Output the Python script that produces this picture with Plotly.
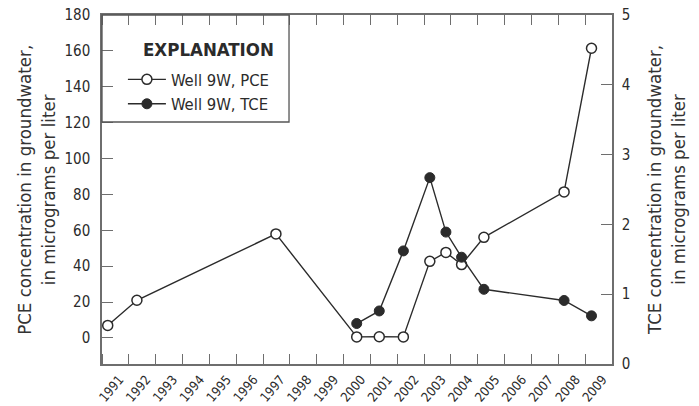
import plotly.graph_objects as go

# Sampling dates shared by both constituents at Well 9W
pce_dates = ["1991-03-20", "1992-04-20", "1997-06-25", "2000-06-28", "2001-05-01",
             "2002-03-25", "2003-03-20", "2003-10-25", "2004-05-25", "2005-03-25",
             "2008-03-20", "2009-03-28"]
pce_values = [7.0, 21.0, 58.0, 0.6, 0.7, 0.6, 42.7, 47.7, 40.9, 56.1, 81.4, 161.5]

tce_dates = ["2000-06-28", "2001-05-01", "2002-03-25", "2003-03-20", "2003-10-25",
             "2004-05-25", "2005-03-25", "2008-03-20", "2009-03-28"]
tce_values = [0.58, 0.76, 1.62, 2.67, 1.89, 1.53, 1.07, 0.91, 0.69]

pce_ticks = [0, 20, 40, 60, 80, 100, 120, 140, 160, 180]
tce_ticks = [0, 1, 2, 3, 4, 5]

FONT = "DejaVu Sans Condensed, DejaVu Sans, sans-serif"
INK = "#2b2b2b"
AXIS = "#6e6e6e"

fig = go.Figure()
fig.add_trace(go.Scatter(
    x=pce_dates, y=pce_values, name="Well 9W, PCE", mode="lines+markers",
    line=dict(color=INK, width=1.4),
    marker=dict(symbol="circle", size=10, color="white", line=dict(color=INK, width=1.5)),
    yaxis="y",
))
fig.add_trace(go.Scatter(
    x=tce_dates, y=tce_values, name="Well 9W, TCE", mode="lines+markers",
    line=dict(color=INK, width=1.4),
    marker=dict(symbol="circle", size=10, color=INK, line=dict(color=INK, width=1)),
    yaxis="y2",
))

fig.update_layout(
    width=699, height=406,
    margin=dict(l=102, r=87, t=15, b=42),
    paper_bgcolor="white", plot_bgcolor="white",
    font=dict(family=FONT, color=INK, size=15),
    showlegend=True,
    legend=dict(
        x=0.041, y=0.865, xanchor="left", yanchor="top",
        bgcolor="rgba(0,0,0,0)", borderwidth=0,
        font=dict(family=FONT, size=16.5, color=INK),
        itemwidth=38, tracegroupgap=0, traceorder="normal",
    ),
    xaxis=dict(
        type="date", range=["1991-01-01", "2010-01-01"],
        tick0="1991-01-01", dtick="M12", tickformat="%Y",
        ticklabelmode="period", tickangle=-50,
        ticklabelstandoff=1, ticklabelshift=4, automargin=False,
        ticks="inside", ticklen=10, tickwidth=1.2, tickcolor=AXIS,
        showline=True, linecolor=AXIS, linewidth=1.5, mirror="ticks",
        showgrid=False, zeroline=False,
        tickfont=dict(family=FONT, size=13, color=INK),
    ),
    yaxis=dict(
        range=[-14.5, 180], tickvals=pce_ticks, automargin=False,
        ticks="inside", ticklen=11, tickwidth=1.2, tickcolor=AXIS,
        ticklabelstandoff=7,
        showline=True, linecolor=AXIS, linewidth=1.5,
        showgrid=False, zeroline=False,
        tickfont=dict(family=FONT, size=15, color=INK),
    ),
    yaxis2=dict(
        range=[0, 5], tickvals=tce_ticks, overlaying="y", side="right",
        automargin=False,
        ticks="inside", ticklen=11, tickwidth=1.2, tickcolor=AXIS,
        ticklabelstandoff=5,
        showline=True, linecolor=AXIS, linewidth=1.5,
        showgrid=False, zeroline=False,
        tickfont=dict(family=FONT, size=15, color=INK),
    ),
)

# Explanation box in the upper-left corner of the plot
fig.add_shape(type="rect", xref="paper", yref="paper",
              x0=0, x1=0.3667, y0=0.6934, y1=1,
              line=dict(color="#555555", width=1.3), layer="above")
fig.add_annotation(text="<b>EXPLANATION</b>", xref="paper", yref="paper",
                   x=0.208, y=0.90, xanchor="center", yanchor="middle",
                   showarrow=False, font=dict(family=FONT, size=18.5, color=INK))

# Axis titles
fig.add_annotation(text="PCE concentration in groundwater,<br>in micrograms per liter",
                   xref="paper", yref="paper", x=-0.1275, y=0.499,
                   xanchor="center", yanchor="middle", textangle=-90,
                   showarrow=False, font=dict(family=FONT, size=18.5, color="#333333"))
fig.add_annotation(text="TCE concentration in groundwater,<br>in micrograms per liter",
                   xref="paper", yref="paper", x=1.108, y=0.499,
                   xanchor="center", yanchor="middle", textangle=-90,
                   showarrow=False, font=dict(family=FONT, size=18.5, color="#333333"))

fig.write_html("out.html")
